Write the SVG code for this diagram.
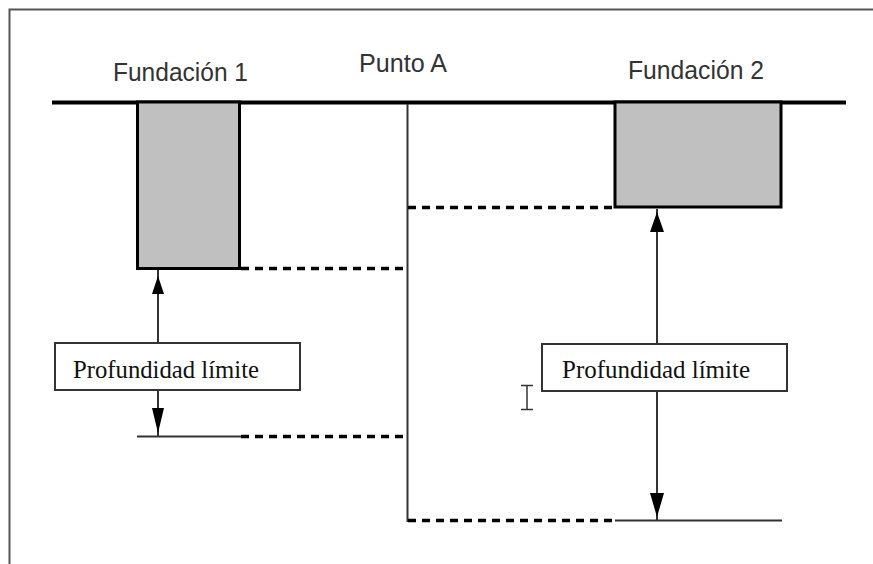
<svg xmlns="http://www.w3.org/2000/svg" width="873" height="564" viewBox="0 0 873 564">
<style>
.frame{fill:none;stroke:#555;stroke-width:2}
.ground{stroke:#000;stroke-width:4;stroke-linecap:butt}
.found{fill:#c0c0c0;stroke:#000;stroke-width:3}
.thin{stroke:#333;stroke-width:2;fill:none}
.dash{stroke:#000;stroke-width:3.5;stroke-dasharray:8 6;fill:none}
.head{fill:#000}
.lbl{font-family:"Liberation Sans",Arial,sans-serif;font-size:26px;fill:#333}
.box{fill:#fff;stroke:#333;stroke-width:2}
.boxt{font-family:"Liberation Serif","Times New Roman",serif;font-size:25px;fill:#111}
</style>
<rect width="873" height="564" fill="#fff"/>
<path class="frame" d="M9.5,564 V9.5 H873"/>
<g id="ground"><line class="ground" x1="52" y1="102.5" x2="846" y2="102.5"/></g>
<g id="fundacion1">
<rect class="found" x="137.5" y="102" width="102" height="166.5"/>
<text class="lbl" x="113" y="81" textLength="135" lengthAdjust="spacingAndGlyphs">Fundación 1</text>
</g>
<g id="fundacion2">
<rect class="found" x="615" y="102" width="166" height="105"/>
<text class="lbl" x="628" y="79" textLength="136" lengthAdjust="spacingAndGlyphs">Fundación 2</text>
</g>
<g id="puntoA">
<line class="thin" x1="407.5" y1="104" x2="407.5" y2="522"/>
<text class="lbl" x="359" y="72" textLength="88" lengthAdjust="spacingAndGlyphs">Punto A</text>
</g>
<g id="connectors">
<line class="dash" x1="241" y1="268.5" x2="407" y2="268.5"/>
<line class="dash" x1="241" y1="436.5" x2="407" y2="436.5"/>
<line class="dash" x1="408" y1="207.5" x2="614" y2="207.5"/>
<line class="dash" x1="408" y1="520.5" x2="615" y2="520.5"/>
<line class="thin" x1="137" y1="436.5" x2="241" y2="436.5"/>
<line class="thin" x1="615" y1="520.5" x2="782" y2="520.5"/>
<line class="thin" x1="158" y1="270" x2="158" y2="343"/>
<line class="thin" x1="158" y1="390" x2="158" y2="436"/>
<polygon class="head" points="158,276 152,294 164,294"/>
<polygon class="head" points="158,433 152,408 164,408"/>
<line class="thin" x1="657" y1="209" x2="657" y2="344"/>
<line class="thin" x1="657" y1="391" x2="657" y2="520"/>
<polygon class="head" points="657,212 650,232 664,232"/>
<polygon class="head" points="657,517 650,493 664,493"/>
</g>
<g id="label1">
<rect class="box" x="55" y="343" width="245" height="47"/>
<text class="boxt" x="73" y="378" textLength="186" lengthAdjust="spacingAndGlyphs">Profundidad límite</text>
</g>
<g id="label2">
<rect class="box" x="542" y="344" width="245" height="47"/>
<text class="boxt" x="562" y="378" textLength="188" lengthAdjust="spacingAndGlyphs">Profundidad límite</text>
</g>
<g id="cursor">
<path d="M527,385.5 V409.5 M521,385.5 H533 M521,409.5 H533" stroke="#333" stroke-width="1.5" fill="none"/>
</g>
</svg>
